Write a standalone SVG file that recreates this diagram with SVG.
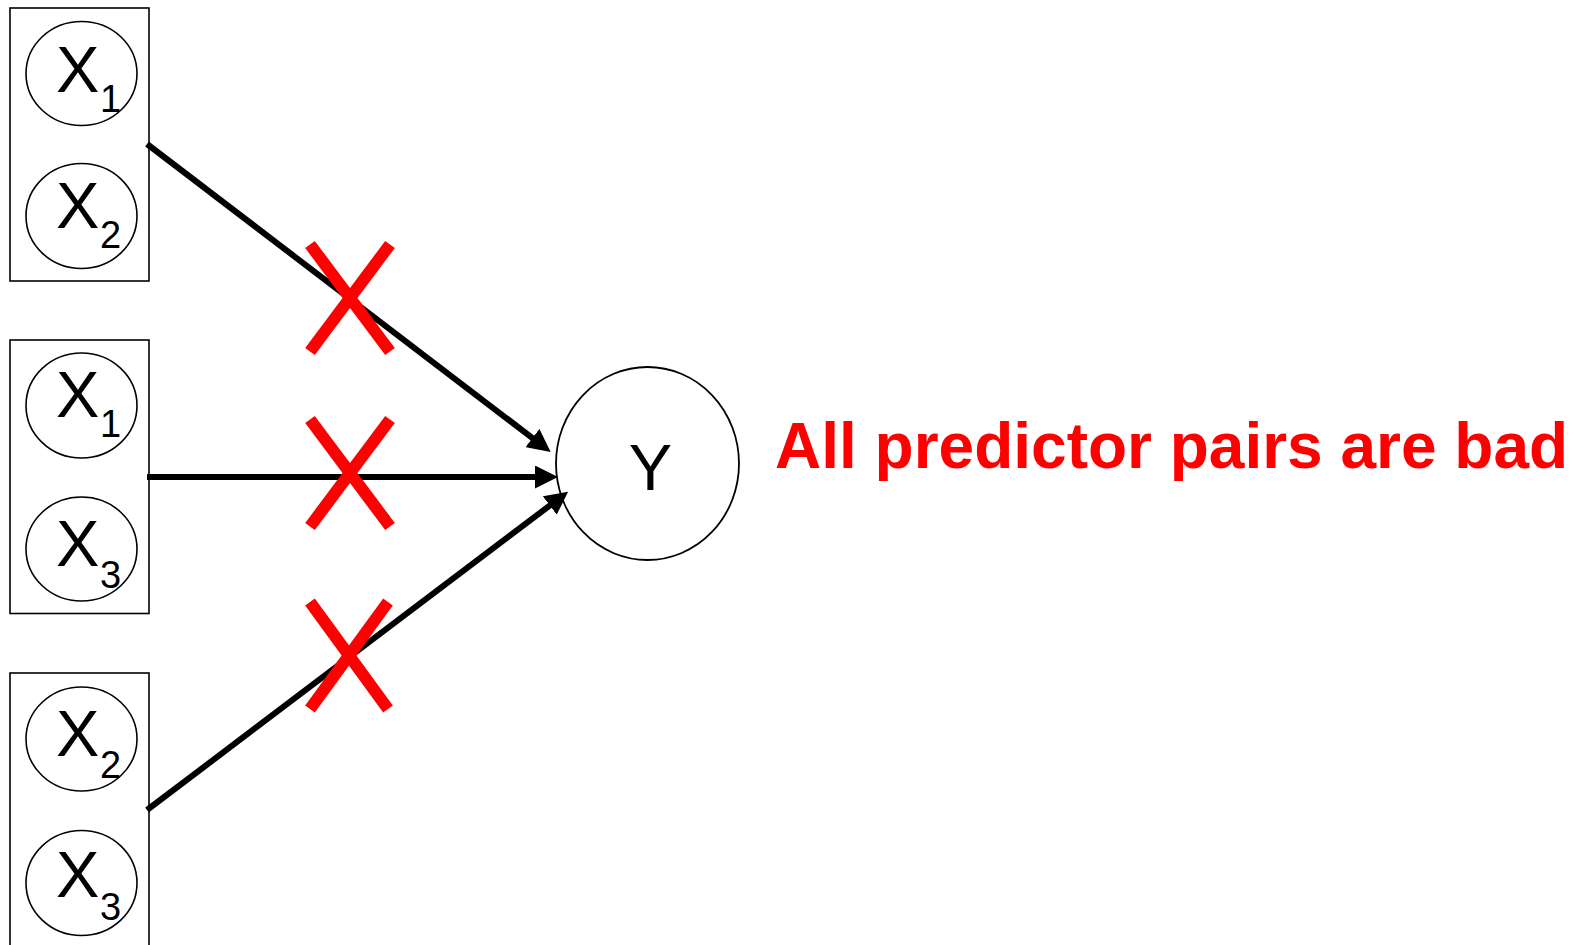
<svg xmlns="http://www.w3.org/2000/svg" width="1577" height="945" viewBox="0 0 1577 945">
<style>
.box{fill:none;stroke:#000;stroke-width:1.6}
.node{fill:#fff;stroke:#000;stroke-width:1.6}
.lbl{font-family:"Liberation Sans",Arial,sans-serif;font-size:65px;fill:#000}
.sub{font-family:"Liberation Sans",Arial,sans-serif;font-size:38px;fill:#000}
.edge{stroke:#000;stroke-width:6;fill:none}
.cross{stroke:#ff0000;stroke-width:12;stroke-linecap:butt}
.note{font-family:"Liberation Sans",Arial,sans-serif;font-size:64px;font-weight:bold;fill:#ff0000}
</style>
<defs>
<marker id="ah" viewBox="0 0 23 23" refX="1" refY="11.5" markerWidth="23" markerHeight="23" markerUnits="userSpaceOnUse" orient="auto">
<path d="M0,0 L23,11.5 L0,23 z" fill="#000"/>
</marker>
</defs>
<rect width="1577" height="945" fill="#fff"/>

<g id="pair1">
<rect class="box" x="10" y="8" width="139" height="273"/>
<g id="pair1-x1">
<ellipse class="node" cx="81.5" cy="73.5" rx="55.5" ry="52"/>
<text class="lbl" x="56" y="91.5">X</text><text class="sub" x="100" y="112">1</text>
</g>
<g id="pair1-x2">
<ellipse class="node" cx="81.5" cy="216" rx="55.5" ry="52.5"/>
<text class="lbl" x="56" y="227.5">X</text><text class="sub" x="100" y="247.5">2</text>
</g>
</g>

<g id="pair2">
<rect class="box" x="10" y="340" width="139" height="273.5"/>
<g id="pair2-x1">
<ellipse class="node" cx="81.5" cy="405.5" rx="55.5" ry="52.5"/>
<text class="lbl" x="56" y="416.5">X</text><text class="sub" x="100" y="436.5">1</text>
</g>
<g id="pair2-x3">
<ellipse class="node" cx="81.5" cy="549" rx="55.5" ry="52"/>
<text class="lbl" x="56" y="566">X</text><text class="sub" x="100" y="588">3</text>
</g>
</g>

<g id="pair3">
<rect class="box" x="10" y="673" width="139" height="280"/>
<g id="pair3-x2">
<ellipse class="node" cx="81.5" cy="739" rx="55.5" ry="52"/>
<text class="lbl" x="56" y="755.5">X</text><text class="sub" x="100" y="778">2</text>
</g>
<g id="pair3-x3">
<ellipse class="node" cx="81.5" cy="883" rx="55.5" ry="52.5"/>
<text class="lbl" x="56" y="896.5">X</text><text class="sub" x="100" y="919.5">3</text>
</g>
</g>

<g id="y">
<ellipse class="node" cx="647.5" cy="463.5" rx="91.5" ry="96.5" style="stroke-width:1.8"/>
<text class="lbl" x="650.5" y="489.5" text-anchor="middle">Y</text>
</g>

<g id="connectors">
<line class="edge" x1="147" y1="144" x2="533.2" y2="438.6" marker-end="url(#ah)"/>
<line class="edge" x1="147" y1="477" x2="536" y2="477" marker-end="url(#ah)"/>
<line class="edge" x1="147" y1="810" x2="550.6" y2="504.9" marker-end="url(#ah)"/>
</g>

<g id="crosses">
<line class="cross" x1="310" y1="244.5" x2="390" y2="351.5"/>
<line class="cross" x1="390" y1="244.5" x2="310" y2="351.5"/>
<line class="cross" x1="310" y1="419.5" x2="390" y2="526.5"/>
<line class="cross" x1="390" y1="419.5" x2="310" y2="526.5"/>
<line class="cross" x1="310" y1="602" x2="388" y2="709"/>
<line class="cross" x1="388" y1="602" x2="310" y2="709"/>
</g>

<text id="note" class="note" x="775" y="468">All predictor pairs are bad</text>
</svg>
